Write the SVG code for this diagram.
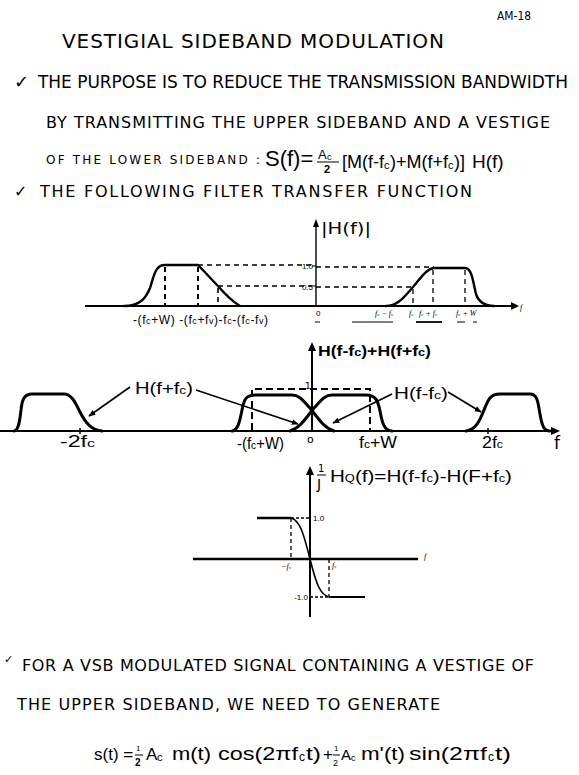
<svg xmlns="http://www.w3.org/2000/svg" width="579" height="775" viewBox="0 0 579 775">
<style>
text{font-family:"DejaVu Sans","Liberation Sans",sans-serif;fill:#000}
.eq{font-family:"Liberation Sans",Arial,sans-serif}
.h{font-size:17px}
.m{font-size:16px}
.s{font-size:12px}
.lab{font-family:"Liberation Sans",Arial,sans-serif;font-size:16px}
.tiny{font-family:"Liberation Serif",serif;font-style:italic;font-size:8px}
.num{font-family:"Liberation Sans",sans-serif;font-size:8px}
.ax{stroke:#000;stroke-width:2;fill:none}
.cv{stroke:#000;stroke-width:3;fill:none;stroke-linecap:round;stroke-linejoin:round}
.cv2{stroke:#000;stroke-width:2.4;fill:none;stroke-linecap:round;stroke-linejoin:round}
.dash{stroke:#000;stroke-width:1.3;fill:none;stroke-dasharray:5 4}
.dash2{stroke:#000;stroke-width:2;fill:none;stroke-dasharray:7 4}
.conn{stroke:#000;stroke-width:1.6;fill:none}
.mark{stroke:#000;stroke-width:1;fill:none}
</style>
<defs>
<marker id="ah" viewBox="0 0 10 10" refX="9" refY="5" markerWidth="7" markerHeight="7" orient="auto" markerUnits="userSpaceOnUse">
<path d="M0,1 L10,5 L0,9 Z" fill="#000"/>
</marker>
</defs>
<rect width="579" height="775" fill="#fff"/>

<g id="header">
<text x="497" y="20" style="font-size:12px" textLength="34" lengthAdjust="spacingAndGlyphs">AM-18</text>
<text x="62" y="48" style="font-size:20px" textLength="382" lengthAdjust="spacing">VESTIGIAL  SIDEBAND  MODULATION</text>
<text x="14" y="88" style="font-size:18px;font-weight:bold">✓</text>
<text x="38" y="88" class="h" textLength="530" lengthAdjust="spacing">THE PURPOSE IS TO REDUCE THE TRANSMISSION BANDWIDTH</text>
<text x="46" y="128" class="m" textLength="504" lengthAdjust="spacing">BY  TRANSMITTING  THE  UPPER SIDEBAND  AND  A VESTIGE</text>
<text x="46" y="164" class="s" textLength="214" lengthAdjust="spacing">OF THE  LOWER  SIDEBAND :</text>
<text x="265" y="166" class="eq" style="font-size:22px">S(f)=</text>
<text x="318" y="159" class="eq" style="font-size:13px">A</text>
<text x="327" y="160" class="eq" style="font-size:9px">c</text>
<line x1="317" y1="162" x2="339" y2="162" class="mark"/>
<text x="324" y="173" class="eq" style="font-size:11px;font-weight:bold">2</text>
<text x="342" y="168" class="eq" style="font-size:18px">[M(f-f</text>
<text x="384" y="169" class="eq" style="font-size:11px">c</text>
<text x="390" y="168" class="eq" style="font-size:18px">)+M(f+f</text>
<text x="448" y="169" class="eq" style="font-size:11px">c</text>
<text x="454" y="168" class="eq" style="font-size:18px">)]</text>
<text x="472" y="168" class="eq" style="font-size:19px">H(f)</text>
<text x="14" y="197" style="font-size:16px;font-weight:bold">✓</text>
<text x="40" y="197" class="m" textLength="432" lengthAdjust="spacing">THE  FOLLOWING  FILTER  TRANSFER  FUNCTION</text>
</g>

<g id="plot1">
<line x1="85" y1="306" x2="512" y2="306" class="ax"/>
<path d="M511,302 L519,306 L511,310 Z" fill="#000"/>
<text x="520" y="310" class="tiny">f</text>
<line x1="316" y1="306" x2="316" y2="226" class="mark" style="stroke-width:1.4"/>
<path d="M313,227 L316,219 L319,227 Z" fill="#000"/>
<text x="321" y="234" style="font-size:16px" textLength="50" lengthAdjust="spacingAndGlyphs">|H(f)|</text>
<path class="cv2" d="M124,306 C140,306 146,298 150,288 C154,276 155,265 165,265 L198,265 C206,273 212,280 218,286 C224,293 230,300 240,306"/>
<path class="cv2" d="M386,306 C398,306 404,297 413,287 C420,279 426,269 434,268 L465,268 C472,268 473,282 476,294 C479,303 485,306 494,306"/>
<line x1="198" y1="265" x2="312" y2="265" class="dash"/>
<line x1="316" y1="267" x2="434" y2="267" class="dash"/>
<line x1="218" y1="286" x2="312" y2="286" class="dash"/>
<line x1="316" y1="287" x2="413" y2="287" class="dash"/>
<line x1="165" y1="267" x2="165" y2="305" class="dash" style="stroke-width:2"/>
<line x1="198" y1="267" x2="198" y2="305" class="dash" style="stroke-width:2"/>
<line x1="218" y1="288" x2="218" y2="305" class="dash" style="stroke-width:1.6"/>
<line x1="413" y1="289" x2="413" y2="305" class="dash"/>
<line x1="433" y1="270" x2="433" y2="305" class="dash"/>
<line x1="465" y1="270" x2="465" y2="305" class="dash"/>
<line x1="312" y1="266" x2="316" y2="266" class="mark"/>
<line x1="312" y1="286" x2="316" y2="286" class="mark"/>
<text x="313" y="269" class="num" text-anchor="end">1.0</text>
<text x="313" y="290" class="num" text-anchor="end">0.5</text>
<text x="316" y="316" class="num">0</text>
<text x="133" y="324" class="eq" style="font-size:12px" textLength="135" lengthAdjust="spacing">-(f<tspan style="font-size:9px">c</tspan>+W) -(f<tspan style="font-size:9px">c</tspan>+f<tspan style="font-size:9px">v</tspan>)-f<tspan style="font-size:9px">c</tspan>-(f<tspan style="font-size:9px">c</tspan>-f<tspan style="font-size:9px">v</tspan>)</text>
<text x="375" y="316" class="tiny">f<tspan style="font-size:5px">c</tspan> − f<tspan style="font-size:5px">v</tspan></text>
<text x="409" y="316" class="tiny">f<tspan style="font-size:5px">c</tspan></text>
<text x="419" y="316" class="tiny">f<tspan style="font-size:5px">c</tspan> + f<tspan style="font-size:5px">v</tspan></text>
<text x="456" y="316" class="tiny">f<tspan style="font-size:5px">c</tspan> + W</text>
<line x1="315" y1="322" x2="320" y2="322" class="mark"/>
<line x1="352" y1="322" x2="393" y2="322" class="mark"/>
<line x1="416" y1="322" x2="442" y2="322" class="mark" style="stroke-width:1.8"/>
<line x1="457" y1="322" x2="465" y2="322" class="mark"/>
<line x1="473" y1="322" x2="477" y2="322" class="mark"/>
</g>

<g id="plot2">
<line x1="0" y1="431" x2="552" y2="431" class="ax"/>
<path d="M551,427 L560,431 L551,435 Z" fill="#000"/>
<line x1="312" y1="431" x2="312" y2="350" class="ax"/>
<path d="M308,351 L312,342 L316,351 Z" fill="#000"/>
<text x="318" y="356" class="eq" style="font-size:14px;font-weight:bold" textLength="113" lengthAdjust="spacingAndGlyphs">H(f-f<tspan style="font-size:10px">c</tspan>)+H(f+f<tspan style="font-size:10px">c</tspan>)</text>
<path class="cv" d="M14,431 C19,431 20,418 21,410 C22,400 24,394 32,394 L64,394 C72,394 76,404 80,412 C86,424 92,430 102,431"/>
<path class="cv" d="M232,431 C238,431 240,420 242,410 C244,399 246,395 256,395 L292,395 C300,395 304,402 310,408 C318,418 324,428 334,431"/>
<path class="cv" d="M290,431 C300,428 306,418 314,408 C320,402 324,395 332,395 L366,395 C376,395 378,401 380,411 C382,422 384,431 392,431"/>
<path class="cv" d="M466,431 C476,430 480,420 484,410 C488,400 490,394 500,394 L530,394 C538,394 538,404 540,414 C542,426 544,431 550,431"/>
<path class="dash2" d="M252,430 V389 H370 V430"/>
<text x="305" y="389" style="font-size:9px">1</text>
<line x1="80" y1="428" x2="80" y2="434" class="mark" style="stroke-width:1.5"/>
<line x1="488" y1="428" x2="488" y2="434" class="mark" style="stroke-width:1.5"/>
<text x="60" y="447" class="lab" textLength="35" lengthAdjust="spacingAndGlyphs">-2f<tspan style="font-size:11px">c</tspan></text>
<text x="237" y="449" class="lab" textLength="47" lengthAdjust="spacingAndGlyphs">-(f<tspan style="font-size:11px">c</tspan>+W)</text>
<text x="307" y="443" style="font-size:11px">o</text>
<text x="359" y="448" class="lab" textLength="38" lengthAdjust="spacingAndGlyphs">f<tspan style="font-size:11px">c</tspan>+W</text>
<text x="482" y="448" class="lab" textLength="21" lengthAdjust="spacingAndGlyphs">2f<tspan style="font-size:11px">c</tspan></text>
<text x="554" y="449" style="font-size:17px">f</text>
<text x="135" y="394" class="lab" textLength="58" lengthAdjust="spacingAndGlyphs">H(f+f<tspan style="font-size:11px">c</tspan>)</text>
<text x="394" y="399" class="lab" textLength="54" lengthAdjust="spacingAndGlyphs">H(f-f<tspan style="font-size:11px">c</tspan>)</text>
</g>

<g id="connectors">
<line x1="130" y1="387" x2="89" y2="416" class="conn" marker-end="url(#ah)"/>
<line x1="196" y1="390" x2="298" y2="424" class="conn" marker-end="url(#ah)"/>
<line x1="392" y1="394" x2="333" y2="423" class="conn" marker-end="url(#ah)"/>
<line x1="448" y1="392" x2="481" y2="412" class="conn" marker-end="url(#ah)"/>
</g>

<g id="plot3">
<line x1="193" y1="559" x2="418" y2="559" class="ax" style="stroke-width:2.4"/>
<text x="424" y="559" class="tiny">f</text>
<line x1="310" y1="617" x2="310" y2="474" class="ax"/>
<path d="M306,475 L310,466 L314,475 Z" fill="#000"/>
<text x="318" y="472" style="font-size:10px">1</text>
<line x1="317" y1="475" x2="326" y2="475" class="mark"/>
<text x="317" y="489" style="font-size:14px">J</text>
<text x="330" y="482" class="lab" textLength="182" lengthAdjust="spacingAndGlyphs">H<tspan style="font-size:10px">Q</tspan>(f)=H(f-f<tspan style="font-size:10px">c</tspan>)-H(F+f<tspan style="font-size:10px">c</tspan>)</text>
<line x1="257" y1="518" x2="291" y2="518" class="ax" style="stroke-width:2.4"/>
<line x1="291" y1="518" x2="310" y2="518" class="dash" style="stroke-dasharray:3 2"/>
<line x1="291" y1="518" x2="291" y2="559" class="dash" style="stroke-dasharray:4 3"/>
<path d="M291,518 C300,520 304,535 310,559 C316,583 320,595 329,597" class="mark" style="stroke-width:1.6"/>
<line x1="329" y1="597" x2="365" y2="597" class="ax"/>
<line x1="310" y1="597" x2="329" y2="597" class="dash" style="stroke-dasharray:3 2"/>
<line x1="329" y1="559" x2="329" y2="597" class="dash" style="stroke-dasharray:4 3"/>
<text x="313" y="521" class="num">1.0</text>
<text x="308" y="600" class="num" text-anchor="end">-1.0</text>
<text x="281" y="569" class="tiny">−f<tspan style="font-size:5px">v</tspan></text>
<text x="332" y="568" class="tiny">f<tspan style="font-size:5px">v</tspan></text>
</g>

<g id="footer">
<text x="4" y="663" style="font-size:11px">✓</text>
<text x="22" y="671" class="m" textLength="512" lengthAdjust="spacing">FOR A VSB MODULATED SIGNAL CONTAINING A VESTIGE OF</text>
<text x="17" y="710" class="m" textLength="423" lengthAdjust="spacing">THE  UPPER SIDEBAND, WE  NEED  TO  GENERATE</text>
<g class="eq" style="font-size:17px">
<text class="eq" x="94" y="760">s(t) =</text>
<text class="eq" x="136" y="751" style="font-size:8px">1</text>
<line x1="135" y1="755" x2="143" y2="755" class="mark"/>
<text class="eq" x="135" y="766" style="font-size:10px;font-weight:bold">2</text>
<text class="eq" x="146" y="760">A</text>
<text class="eq" x="157" y="761" style="font-size:11px">c</text>
<text class="eq" x="172" y="760" style="font-size:19px" textLength="39" lengthAdjust="spacingAndGlyphs">m(t)</text>
<text class="eq" x="218" y="760" style="font-size:19px" textLength="80" lengthAdjust="spacingAndGlyphs">cos(2πf</text>
<text class="eq" x="299" y="761" style="font-size:12px">c</text>
<text class="eq" x="306" y="760" style="font-size:19px" textLength="15" lengthAdjust="spacingAndGlyphs">t)</text>
<text class="eq" x="323" y="760">+</text>
<text class="eq" x="334" y="751" style="font-size:8px">1</text>
<line x1="333" y1="755" x2="340" y2="755" class="mark"/>
<text class="eq" x="333" y="766" style="font-size:9px">2</text>
<text class="eq" x="341" y="760" style="font-size:15px">A</text>
<text class="eq" x="351" y="761" style="font-size:9px">c</text>
<text class="eq" x="361" y="760" style="font-size:19px" textLength="44" lengthAdjust="spacingAndGlyphs">m'(t)</text>
<text class="eq" x="409" y="760" style="font-size:19px" textLength="78" lengthAdjust="spacingAndGlyphs">sin(2πf</text>
<text class="eq" x="488" y="761" style="font-size:12px">c</text>
<text class="eq" x="495" y="760" style="font-size:19px" textLength="16" lengthAdjust="spacingAndGlyphs">t)</text>
</g>
</g>
</svg>
